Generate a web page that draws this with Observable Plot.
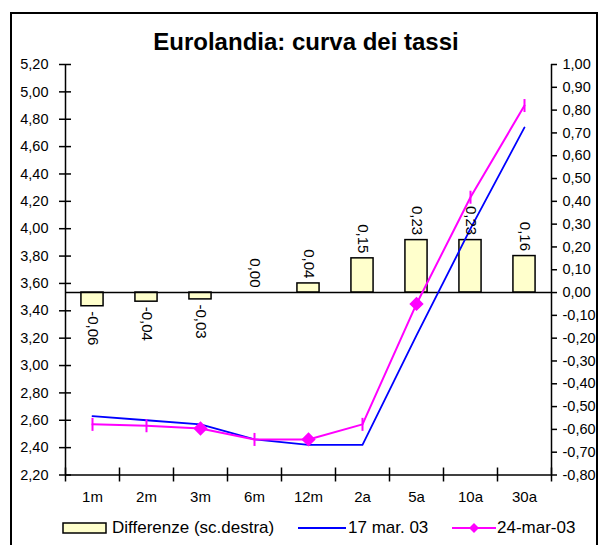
<!DOCTYPE html>
<html><head><meta charset="utf-8">
<script src="https://cdn.jsdelivr.net/npm/d3@7"></script>
<script src="https://cdn.jsdelivr.net/npm/@observablehq/plot@0.6"></script>
<style>
body{margin:0;background:#fff;font-family:"Liberation Sans",Arial,sans-serif;color:#000;}
#frame{position:absolute;left:10px;top:12px;width:588px;height:545px;border:2px solid #000;box-sizing:border-box;}
#title{position:absolute;left:0;width:612px;top:28px;text-align:center;font-weight:bold;font-size:24px;line-height:28px;}
#chart{position:absolute;left:0;top:0;}
.lg{position:absolute;top:518px;font-size:17px;line-height:20px;white-space:nowrap;}
.lgs{position:absolute;top:519px;}
</style></head>
<body>
<div id="frame"></div>
<div id="chart"></div>
<div id="title">Eurolandia: curva dei tassi</div>
<svg class="lgs" style="left:62px" width="46" height="18"><rect x="1" y="4" width="43" height="10" fill="#FFFFCC" stroke="#000" stroke-width="1.5"/></svg>
<div class="lg" style="left:112px">Differenze (sc.destra)</div>
<svg class="lgs" style="left:298px" width="48" height="18"><line x1="0" y1="9" x2="48" y2="9" stroke="#0000FF" stroke-width="2"/></svg>
<div class="lg" style="left:348px">17 mar. 03</div>
<svg class="lgs" style="left:452px" width="44" height="18"><line x1="0" y1="9" x2="44" y2="9" stroke="#FF00FF" stroke-width="2"/><path d="M22,4L27,9L22,14L17,9Z" fill="#FF00FF"/></svg>
<div class="lg" style="left:497px">24-mar-03</div>
<script>
const categories = ["1m","2m","3m","6m","12m","2a","5a","10a","30a"];
const diff = [-0.06,-0.04,-0.03,0.00,0.04,0.15,0.23,0.23,0.16];
const rates17 = [2.63,2.60,2.57,2.46,2.42,2.42,3.22,4.00,4.74];
const rates24 = [2.57,2.56,2.54,2.46,2.46,2.57,3.45,4.23,4.90];
const marker24 = ["tick","tick","diamond","tick","diamond","tick","diamond","tick","tick"];
const leftTicks = [2.2,2.4,2.6,2.8,3.0,3.2,3.4,3.6,3.8,4.0,4.2,4.4,4.6,4.8,5.0,5.2];
const rightTicks = [-0.8,-0.7,-0.6,-0.5,-0.4,-0.3,-0.2,-0.1,0,0.1,0.2,0.3,0.4,0.5,0.6,0.7,0.8,0.9,1.0];

const L0 = leftTicks[0], L1 = leftTicks[leftTicks.length-1];
const R0 = rightTicks[0], R1 = rightTicks[rightTicks.length-1];
const toLeft = d => L0 + (d - R0) * (L1 - L0) / (R1 - R0);
const fmt = v => (Math.abs(v) < 1e-9 ? 0 : v).toFixed(2).replace(".", ",");

const W = 607, H = 545, mL = 65, mR = 56, mT = 64, mB = 70.5;
const plotW = W - mL - mR, plotH = H - mT - mB;
const idx = d3.range(categories.length);
const barHalf = 0.205;
const zeroL = toLeft(0);
const vbar = {draw(ctx, size){ const r = Math.sqrt(size/Math.PI); ctx.moveTo(0,-r); ctx.lineTo(0,r); }};

const chart = Plot.plot({
  width: W, height: H,
  marginLeft: mL, marginRight: mR, marginTop: mT, marginBottom: mB,
  x: {domain: [-0.5, categories.length - 0.5], axis: null},
  y: {domain: [L0, L1], axis: null},
  style: {fontFamily: "'Liberation Sans', Arial, sans-serif", fontSize: "14.5px", background: "transparent", overflow: "visible", color: "#000"},
  marks: [
    Plot.rectY(idx, {x1: i => i - barHalf, x2: i => i + barHalf, y1: zeroL, y2: i => toLeft(diff[i]), fill: "#FFFFCC", stroke: "#000", strokeWidth: 1.5}),
    Plot.ruleY([zeroL], {stroke: "#000", strokeWidth: 1.5}),
    Plot.ruleX([-0.5, categories.length - 0.5], {stroke: "#000", strokeWidth: 1.5}),
    Plot.ruleY([L0], {stroke: "#000", strokeWidth: 1.5}),
    Plot.ruleY(leftTicks, {insetLeft: -6, insetRight: plotW - 6, stroke: "#000", strokeWidth: 1.5}),
    Plot.ruleY(rightTicks.map(toLeft), {insetLeft: plotW, insetRight: -6, stroke: "#000", strokeWidth: 1.5}),
    Plot.ruleX(d3.range(categories.length + 1).map(i => i - 0.5), {insetTop: plotH - 7, insetBottom: -7, stroke: "#000", strokeWidth: 1.5}),
    Plot.axisY({anchor: "left", ticks: leftTicks, tickSize: 0, tickPadding: 17, tickFormat: fmt}),
    Plot.axisY({anchor: "right", ticks: rightTicks.map(toLeft), tickSize: 0, tickPadding: 11,
      tickFormat: v => fmt(Math.round((R0 + (v - L0) * (R1 - R0) / (L1 - L0)) * 100) / 100)}),
    Plot.axisX({ticks: idx, tickSize: 0, tickPadding: 16, fontSize: 15, tickFormat: i => categories[i]}),
    Plot.line(idx, {x: i => i, y: i => rates17[i], stroke: "#0000FF", strokeWidth: 1.8}),
    Plot.line(idx, {x: i => i, y: i => rates24[i], stroke: "#FF00FF", strokeWidth: 2}),
    Plot.dot(idx.filter(i => marker24[i] === "diamond"), {x: i => i, y: i => rates24[i], symbol: "diamond2", r: 5.5, fill: "#FF00FF", stroke: "#FF00FF"}),
    Plot.dot(idx.filter(i => marker24[i] === "tick"), {x: i => i, y: i => rates24[i], symbol: vbar, r: 6.5, stroke: "#FF00FF", strokeWidth: 2}),
    Plot.text(idx.filter(i => diff[i] >= 0), {x: i => i, y: i => toLeft(diff[i]), text: i => fmt(diff[i]), rotate: 90, textAnchor: "end", dy: -5, fontSize: 15}),
    Plot.text(idx.filter(i => diff[i] < 0), {x: i => i, y: i => toLeft(diff[i]), text: i => fmt(diff[i]), rotate: 90, textAnchor: "start", dy: 5, fontSize: 15})
  ]
});
document.getElementById("chart").appendChild(chart);
</script>
</body></html>
